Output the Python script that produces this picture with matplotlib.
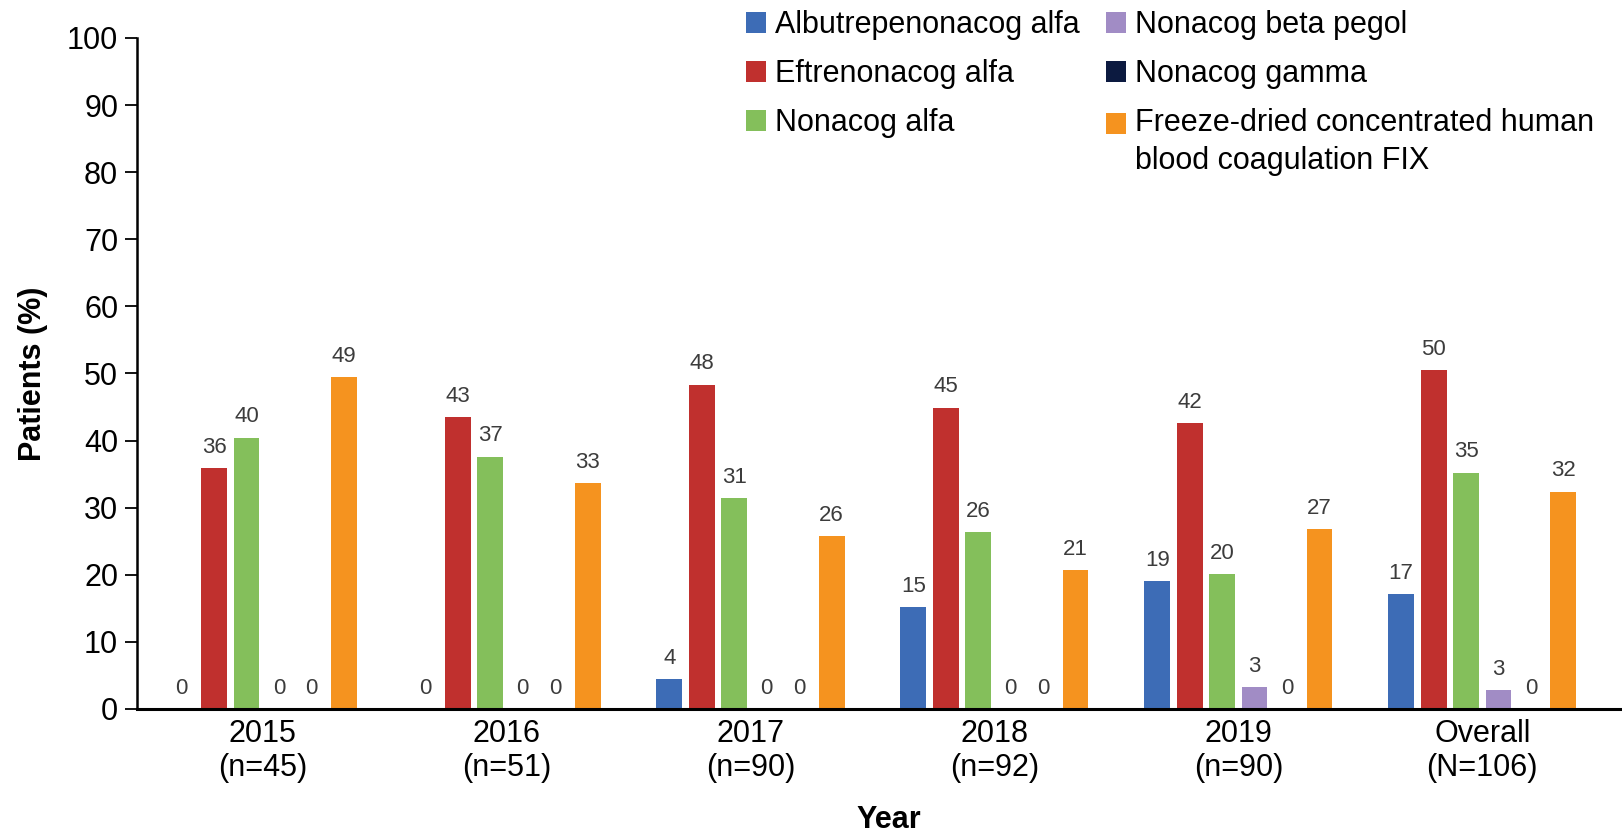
import numpy as np
import matplotlib
matplotlib.use("Agg")
import matplotlib.pyplot as plt
from matplotlib.patches import Rectangle
from matplotlib.legend_handler import HandlerPatch, update_from_first_child

plt.rcParams['font.family'] = ['Liberation Sans', 'DejaVu Sans']

# groups on the x axis
years = ['2015\n(n=45)', '2016\n(n=51)', '2017\n(n=90)', '2018\n(n=92)',
         '2019\n(n=90)', 'Overall\n(N=106)']

products = ['Albutrepenonacog alfa', 'Eftrenonacog alfa', 'Nonacog alfa',
            'Nonacog beta pegol', 'Nonacog gamma',
            'Freeze-dried concentrated human\nblood coagulation FIX']
colors = ['#3d6cb6', '#c0302e', '#84bf5b', '#a18cc5', '#0c1a40', '#f5931f']

# bar heights (%)
albutrepenonacog = [0, 0, 4.4, 15.2, 19.0, 17.1]
eftrenonacog = [35.9, 43.5, 48.3, 44.9, 42.6, 50.5]
nonacog_alfa = [40.4, 37.6, 31.4, 26.3, 20.1, 35.2]
nonacog_beta = [0, 0, 0, 0, 3.2, 2.8]
nonacog_gamma = [0, 0, 0, 0, 0, 0]
freeze_dried = [49.4, 33.6, 25.7, 20.7, 26.8, 32.4]

# printed labels above the bars
lab_albutrepenonacog = [0, 0, 4, 15, 19, 17]
lab_eftrenonacog = [36, 43, 48, 45, 42, 50]
lab_nonacog_alfa = [40, 37, 31, 26, 20, 35]
lab_nonacog_beta = [0, 0, 0, 0, 3, 3]
lab_nonacog_gamma = [0, 0, 0, 0, 0, 0]
lab_freeze_dried = [49, 33, 26, 21, 27, 32]

heights = [albutrepenonacog, eftrenonacog, nonacog_alfa,
           nonacog_beta, nonacog_gamma, freeze_dried]
labels = [lab_albutrepenonacog, lab_eftrenonacog, lab_nonacog_alfa,
          lab_nonacog_beta, lab_nonacog_gamma, lab_freeze_dried]

fig = plt.figure(figsize=(16.22, 8.39), dpi=100)
ax = fig.add_axes([0.0845, 0.155, 0.9143, 0.7998])

x = np.arange(len(years))
pitch = 0.133
width = 0.106
containers = []
for i, (h, lab) in enumerate(zip(heights, labels)):
    bars = ax.bar(x + (i - 2.5) * pitch, h, width, color=colors[i],
                  label=products[i], linewidth=0)
    ax.bar_label(bars, labels=[str(v) for v in lab], padding=7.5,
                 fontsize=16, color='#3c3c3c')
    containers.append(bars)

ax.set_xlim(-0.515, 5.565)
ax.set_ylim(0, 100)
ax.set_yticks(np.arange(0, 101, 10))
ax.set_xticks(x)
ax.set_xticklabels(years)

ax.spines['top'].set_visible(False)
ax.spines['right'].set_visible(False)
ax.spines['left'].set_linewidth(1.8)
ax.spines['bottom'].set_linewidth(2.2)
ax.tick_params(axis='y', labelsize=22, length=8.6, width=1.3, pad=5,
               color='black')
ax.tick_params(axis='x', labelsize=22, length=0, pad=7)

ax.set_ylabel('Patients (%)', fontsize=22, fontweight='bold')
ax.yaxis.set_label_coords(-0.06, 0.5)
ax.set_xlabel('Year', fontsize=22, fontweight='bold')
ax.xaxis.set_label_coords(0.507, -0.143)


# square for the two-line entry sits next to its first line
def top_square(legend, orig_handle, xdescent, ydescent, width, height, fontsize):
    return Rectangle((-xdescent, -ydescent + 0.62 * fontsize), width, height)


leg = ax.legend(ncol=2, loc='upper left', bbox_to_anchor=(746 / 1622, 0.988),
                bbox_transform=fig.transFigure, frameon=False, fontsize=22,
                handlelength=0.66, handleheight=0.66, handletextpad=0.3,
                columnspacing=0.85, labelspacing=0.62, borderpad=0,
                borderaxespad=0,
                handler_map={containers[5]: HandlerPatch(
                    patch_func=top_square, update_func=update_from_first_child)})
leg.get_texts()[5].set_linespacing(1.34)

fig.savefig('out.png', dpi=100)
